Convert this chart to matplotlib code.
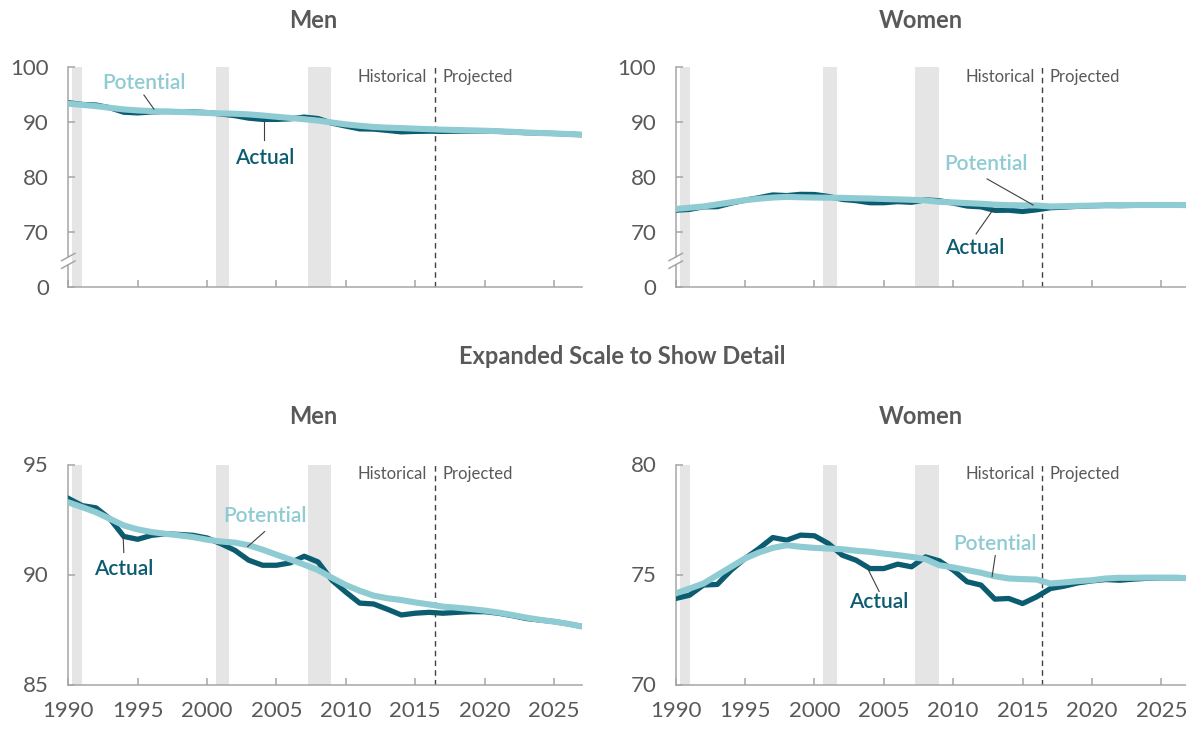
import matplotlib
matplotlib.use("Agg")
import matplotlib.pyplot as plt

plt.rcParams['font.family'] = ['Lato', 'DejaVu Sans']

# labor force participation rates, ages 25-54 (percent)
years = list(range(1990, 2028))
men_actual = [93.46, 93.13, 93.03, 92.53, 91.73, 91.6, 91.78, 91.85, 91.82, 91.78,
              91.66, 91.4, 91.1, 90.65, 90.42, 90.42, 90.53, 90.83, 90.57, 89.74,
              89.2, 88.7, 88.66, 88.42, 88.16, 88.24, 88.28, 88.24, 88.28, 88.31,
              88.31, 88.24, 88.13, 88.0, 87.93, 87.86, 87.76, 87.64]
men_potential = [93.28, 93.06, 92.83, 92.53, 92.23, 92.05, 91.93, 91.85, 91.78, 91.7,
                 91.58, 91.5, 91.45, 91.33, 91.13, 90.9, 90.68, 90.45, 90.2, 89.85,
                 89.52, 89.26, 89.04, 88.92, 88.84, 88.73, 88.64, 88.54, 88.49, 88.43,
                 88.36, 88.27, 88.16, 88.04, 87.94, 87.86, 87.76, 87.64]
women_actual = [73.91, 74.06, 74.52, 74.55, 75.2, 75.73, 76.18, 76.68, 76.56, 76.79,
                76.76, 76.41, 75.88, 75.65, 75.27, 75.27, 75.47, 75.35, 75.8, 75.62,
                75.2, 74.67, 74.52, 73.88, 73.91, 73.68, 73.98, 74.36, 74.47, 74.62,
                74.71, 74.77, 74.74, 74.79, 74.83, 74.85, 74.85, 74.85]
women_potential = [74.14, 74.36, 74.59, 74.97, 75.35, 75.73, 76.0, 76.21, 76.33, 76.26,
                   76.21, 76.18, 76.15, 76.08, 76.03, 75.95, 75.88, 75.8, 75.7, 75.42,
                   75.32, 75.2, 75.08, 74.92, 74.82, 74.79, 74.77, 74.59, 74.64, 74.7,
                   74.74, 74.82, 74.85, 74.85, 74.86, 74.86, 74.86, 74.83]

recessions = [(1990.3, 1991.0), (2000.65, 2001.6), (2007.25, 2008.95)]
split_year = 2016.4
x_ticks = [1990, 1995, 2000, 2005, 2010, 2015, 2020, 2025]

DARK = '#0b5c70'
LIGHT = '#8ecbd2'
GREY = '#595959'
SPINE = '#a6a6a6'


def setup_axes(ax, ylim, yticks, yticklabels, show_xlabels, broken):
    for a, b in recessions:
        ax.axvspan(a, b, color='#e5e5e5', lw=0, zorder=0)
    ax.axvline(split_year, color='#404040', lw=1, ls=(0, (4, 3)), zorder=1)
    ax.set_xlim(1990, 2027)
    ax.set_ylim(*ylim)
    ax.set_yticks(yticks)
    ax.set_yticklabels(yticklabels)
    ax.set_xticks(x_ticks)
    if not show_xlabels:
        ax.set_xticklabels([])
    for s in ['top', 'right']:
        ax.spines[s].set_visible(False)
    for s in ['left', 'bottom']:
        ax.spines[s].set_color(SPINE)
        ax.spines[s].set_linewidth(1.1)
    ax.tick_params(direction='in', length=5, width=1.1, color=SPINE,
                   labelcolor=GREY, labelsize=16, pad=14)
    ax.tick_params(axis='x', pad=12)
    tr = ax.get_yaxis_transform()
    ax.text(split_year - 0.55, 0.955, 'Historical', transform=ax.get_xaxis_transform(),
            ha='right', va='center', fontsize=12, color=GREY)
    ax.text(split_year + 0.55, 0.955, 'Projected', transform=ax.get_xaxis_transform(),
            ha='left', va='center', fontsize=12, color=GREY)
    if broken:
        # break in the y axis between 0 and 70
        ax.spines['left'].set_visible(False)
        ax.plot([0, 0], [60, 64.0], transform=tr, color=SPINE, lw=1.1, clip_on=False)
        ax.plot([0, 0], [65.4, 100], transform=tr, color=SPINE, lw=1.1, clip_on=False)
        for yc in [64.0, 65.4]:
            ax.plot([-0.013, 0.013], [yc - 0.67, yc + 0.67], transform=tr,
                    color=SPINE, lw=1.1, clip_on=False)


def draw_lines(ax, actual, potential):
    ax.plot(years, actual, color=DARK, lw=3.8, solid_joinstyle='round', zorder=3)
    ax.plot(years, potential, color=LIGHT, lw=4.4, solid_joinstyle='round', zorder=4)


def label(ax, text, color, txt_xy, p0, p1):
    ax.text(txt_xy[0], txt_xy[1], text, color=color, fontsize=15, ha='center',
            va='center', fontweight='semibold', zorder=5)
    ax.plot([p0[0], p1[0]], [p0[1], p1[1]], color='#404040', lw=0.8, zorder=5)


fig = plt.figure(figsize=(11.86, 7.29), dpi=100)
W = 513.4 / 1186
H = 220.0 / 729
ax_tl = fig.add_axes([68.3 / 1186, 1 - 286.7 / 729, W, H])
ax_tr = fig.add_axes([675.7 / 1186, 1 - 286.7 / 729, W, H])
ax_bl = fig.add_axes([68.3 / 1186, 1 - 684.5 / 729, W, H])
ax_br = fig.add_axes([675.7 / 1186, 1 - 684.5 / 729, W, H])

top_ticks = [60, 70, 80, 90, 100]
top_labels = ['0', '70', '80', '90', '100']
setup_axes(ax_tl, (60, 100), top_ticks, top_labels, False, True)
setup_axes(ax_tr, (60, 100), top_ticks, top_labels, False, True)
setup_axes(ax_bl, (85, 95), [85, 90, 95], ['85', '90', '95'], True, False)
setup_axes(ax_br, (70, 80), [70, 75, 80], ['70', '75', '80'], True, False)

draw_lines(ax_tl, men_actual, men_potential)
draw_lines(ax_tr, women_actual, women_potential)
draw_lines(ax_bl, men_actual, men_potential)
draw_lines(ax_br, women_actual, women_potential)

label(ax_tl, 'Potential', LIGHT, (1995.45, 97.0), (1995.45, 94.85), (1996.17, 92.3))
label(ax_tl, 'Actual', DARK, (2004.15, 83.4), (2004.1, 86.7), (2004.1, 90.0))
label(ax_tr, 'Potential', LIGHT, (2012.37, 82.3), (2012.44, 79.6), (2015.76, 74.85))
label(ax_tr, 'Actual', DARK, (2011.58, 67.1), (2011.65, 69.6), (2012.9, 74.1))
label(ax_bl, 'Potential', LIGHT, (2004.15, 92.64), (2004.15, 91.95), (2002.93, 91.27))
label(ax_bl, 'Actual', DARK, (1994.0, 90.23), (1994.0, 91.0), (1993.95, 91.77))
label(ax_br, 'Potential', LIGHT, (2013.03, 76.4), (2013.03, 75.86), (2012.8, 74.9))
label(ax_br, 'Actual', DARK, (2004.66, 73.73), (2004.66, 74.23), (2003.87, 75.23))

title_kw = dict(ha='center', va='center', fontsize=17, fontweight='bold', color=GREY)
fig.text(313 / 1186, 1 - 20 / 729, 'Men', **title_kw)
fig.text(921 / 1186, 1 - 20 / 729, 'Women', **title_kw)
fig.text(622 / 1186, 1 - 357 / 729, 'Expanded Scale to Show Detail', **title_kw)
fig.text(313 / 1186, 1 - 416 / 729, 'Men', **title_kw)
fig.text(921 / 1186, 1 - 416 / 729, 'Women', **title_kw)

fig.savefig('out.png', dpi=100)
